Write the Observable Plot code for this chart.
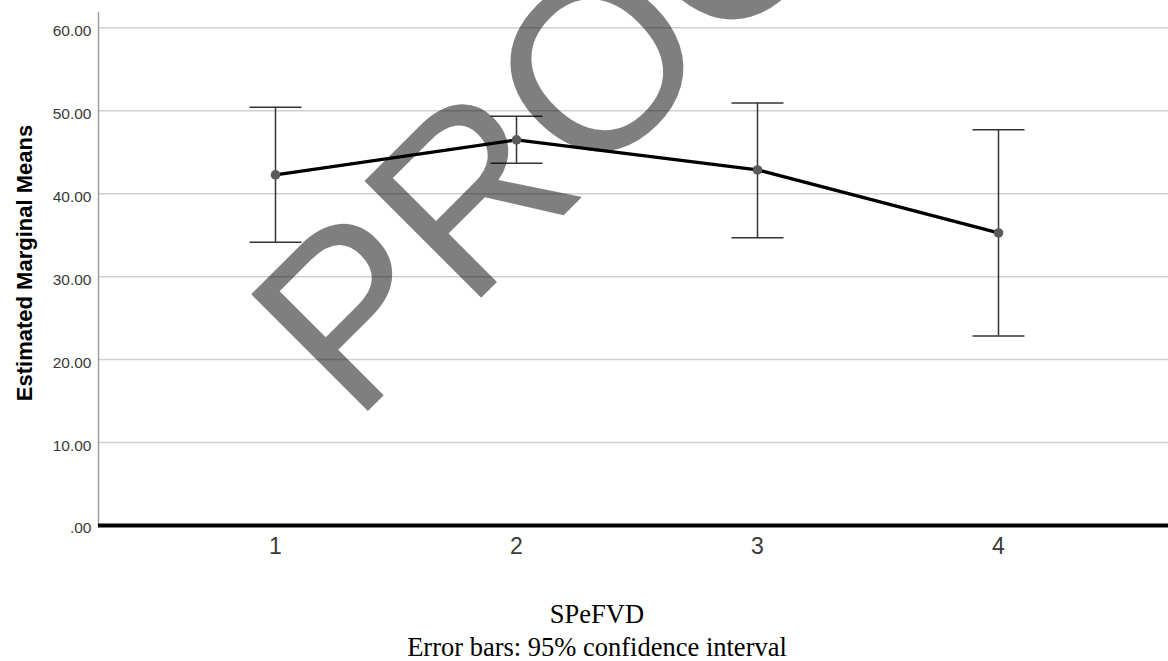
<!DOCTYPE html>
<html><head><meta charset="utf-8">
<script src="https://cdn.jsdelivr.net/npm/d3@7"></script>
<script src="https://cdn.jsdelivr.net/npm/@observablehq/plot@0.6"></script>
<style>
body{margin:0;background:#fff;}
#wrap{position:relative;width:1168px;height:661px;overflow:hidden;background:#fff;}
.cap{position:absolute;left:0;width:1194px;text-align:center;font-family:"Liberation Serif","Times New Roman",serif;font-size:26.5px;line-height:26.5px;color:#000;white-space:nowrap;}
</style></head><body><div id="wrap"></div>
<script>
const categories = ["1", "2", "3", "4"];
const means = [42.27, 46.49, 42.87, 35.27];
const lower = [34.14, 43.67, 34.70, 22.85];
const upper = [50.42, 49.34, 50.95, 47.70];
const yTicks = [0, 10, 20, 30, 40, 50, 60];
const xTitle = "SPeFVD";
const yTitle = "Estimated Marginal Means";
const note = "Error bars: 95% confidence interval";
const watermark = "PROOF";

const data = categories.map((c, i) => ({c, mean: means[i], lo: lower[i], hi: upper[i]}));
const fmt = d => d === 0 ? ".00" : d.toFixed(2);

// horizontal cap symbol for error bars
const capSymbol = {draw(ctx) { ctx.moveTo(-26, 0); ctx.lineTo(26, 0); }};

const chart = Plot.plot({
  width: 1168,
  height: 580,
  marginLeft: 98,
  marginRight: 0,
  marginTop: 12,
  marginBottom: 55,
  style: {fontFamily: "'Liberation Sans', Arial, sans-serif", background: "white"},
  x: {type: "point", domain: categories, padding: 0.7, insetLeft: 6, label: null},
  y: {domain: [0, 61.85], label: null},
  marks: [
    Plot.gridY(yTicks, {stroke: "#d0d0d0", strokeOpacity: 1, strokeWidth: 1.5}),
    Plot.frame({anchor: "left", stroke: "#a0a0a0", strokeWidth: 1.5}),
    Plot.axisY(yTicks, {tickSize: 0, tickPadding: 7, tickFormat: fmt, fontSize: 15.5, fill: "#3a3a3a", dy: 3, label: null}),
    Plot.axisX(categories, {tickSize: 0, tickPadding: 12, fontSize: 23, fill: "#3a3a3a", label: null}),
    Plot.text([yTitle], {frameAnchor: "left", textAnchor: "middle", rotate: -90, dx: -74, dy: -6, fontSize: 22, fontWeight: "bold", fill: "#000"}),
    Plot.ruleX(data, {x: "c", y1: "lo", y2: "hi", stroke: "#333", strokeWidth: 1.5}),
    Plot.dot(data, {x: "c", y: "lo", symbol: capSymbol, stroke: "#333", strokeWidth: 1.5, fill: "none"}),
    Plot.dot(data, {x: "c", y: "hi", symbol: capSymbol, stroke: "#333", strokeWidth: 1.5, fill: "none"}),
    Plot.line(data, {x: "c", y: "mean", stroke: "#000", strokeWidth: 3.4}),
    Plot.dot(data, {x: "c", y: "mean", r: 4.8, fill: "#5a5a5a", stroke: "none"}),
    Plot.ruleY([0], {stroke: "#000", strokeWidth: 4})
  ]
});

// watermark overlay as real text
const ns = "http://www.w3.org/2000/svg";
const wm = document.createElementNS(ns, "text");
wm.textContent = watermark;
wm.setAttribute("transform", "translate(354,425) rotate(-45)");
wm.setAttribute("text-anchor", "start");
wm.setAttribute("font-family", "'Liberation Sans', Arial, sans-serif");
wm.setAttribute("font-size", "240");
wm.setAttribute("fill", "#000");
wm.setAttribute("fill-opacity", "0.5");
chart.appendChild(wm);

const wrap = document.getElementById("wrap");
wrap.appendChild(chart);
chart.style.position = "absolute";
chart.style.left = "0";
chart.style.top = "0";

const t1 = document.createElement("div");
t1.className = "cap"; t1.style.top = "601px"; t1.textContent = xTitle;
const t2 = document.createElement("div");
t2.className = "cap"; t2.style.top = "634px"; t2.textContent = note;
wrap.appendChild(t1); wrap.appendChild(t2);
</script></body></html>
